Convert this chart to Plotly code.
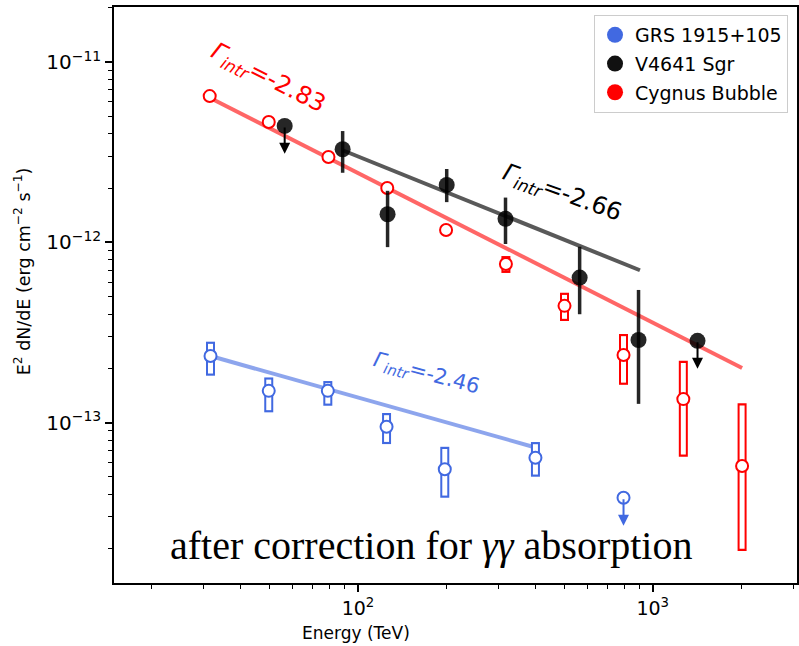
import numpy as np
import plotly.graph_objects as go

# ---------------- data ----------------
# Cygnus Bubble (red)
cyg_E = [31.4, 49.8, 79.4, 125.7, 199.0, 317.6, 502.0, 796.0, 1270.0, 2010.0]
cyg_F = [6.47e-12, 4.65e-12, 2.97e-12, 2.0e-12, 1.17e-12, 7.58e-13, 4.44e-13, 2.37e-13, 1.35e-13, 5.74e-14]
cyg_hi = [6.6e-12, 4.75e-12, 3.03e-12, 2.04e-12, 1.19e-12, 8.39e-13, 5.25e-13, 3.10e-13, 2.20e-13, 1.28e-13]
cyg_lo = [6.3e-12, 4.55e-12, 2.91e-12, 1.96e-12, 1.15e-12, 6.76e-13, 3.66e-13, 1.62e-13, 6.47e-14, 1.94e-14]

# V4641 Sgr (black)
v46_E = [88.7, 126.0, 200.0, 316.6, 565.0, 895.0]
v46_F = [3.28e-12, 1.43e-12, 2.08e-12, 1.35e-12, 6.37e-13, 2.87e-13]
v46_hi = [4.14e-12, 1.93e-12, 2.55e-12, 1.77e-12, 9.45e-13, 5.44e-13]
v46_lo = [2.43e-12, 9.4e-13, 1.67e-12, 9.78e-13, 3.99e-13, 1.27e-13]
v46_ul_E = [56.4, 1419.0]
v46_ul_F = [4.42e-12, 2.84e-13]

# GRS 1915+105 (blue)
grs_E = [31.6, 49.8, 79.0, 125.0, 197.0, 400.0]
grs_F = [2.34e-13, 1.50e-13, 1.50e-13, 9.48e-14, 5.51e-14, 6.38e-14]
grs_hi = [2.81e-13, 1.78e-13, 1.70e-13, 1.13e-13, 7.34e-14, 7.80e-14]
grs_lo = [1.82e-13, 1.14e-13, 1.24e-13, 7.60e-14, 3.83e-14, 5.01e-14]
grs_ul_E = [796.0]
grs_ul_F = [3.83e-14]

UL_FRAC = 0.3  # upper-limit arrow length as fraction of flux

# power-law fits: (E_min, E_max, F at E_min, photon index)
fit_cyg = [31.4, 2010.0, 6.34e-12, -2.83]
fit_v46 = [88.7, 905.0, 3.24e-12, -2.66]
fit_grs = [31.6, 400.0, 2.34e-13, -2.46]

x_ticks = [1e2, 1e3]
x_ticktext = ["10<sup>2</sup>", "10<sup>3</sup>"]
y_ticks = [1e-13, 1e-12, 1e-11]
y_ticktext = ["10<sup>\u221213</sup>", "10<sup>\u221212</sup>", "10<sup>\u221211</sup>"]

RED = "#ff0000"
BLUE = "#4169e1"
BLACK = "rgba(0,0,0,0.85)"
FONT = "DejaVu Sans"
OUTLINE = 1.028  # inset factor for the white core of hollow error bars

fig = go.Figure()


def fit_line(p):
    e0, e1, f0, g = p
    E = np.array([e0, e1])
    return E, f0 * (E / e0) ** (2 + g)


# fit lines
for p, col in [(fit_cyg, "rgba(255,0,0,0.6)"), (fit_v46, "rgba(0,0,0,0.65)"), (fit_grs, "rgba(65,105,225,0.6)")]:
    E, F = fit_line(p)
    fig.add_trace(go.Scatter(x=E, y=F, mode="lines", line=dict(color=col, width=4),
                             showlegend=False, hoverinfo="skip"))


def hollow_bars(E, F, lo, hi, col):
    F = np.array(F); lo = np.array(lo); hi = np.array(hi)
    fig.add_trace(go.Scatter(
        x=E, y=F, mode="markers", marker=dict(size=1, opacity=0), showlegend=False, hoverinfo="skip",
        error_y=dict(type="data", symmetric=False, array=hi - F, arrayminus=F - lo,
                     color=col, thickness=9, width=0)))
    lo_in = lo * OUTLINE
    hi_in = hi / OUTLINE
    fig.add_trace(go.Scatter(
        x=E, y=F, mode="markers", marker=dict(size=1, opacity=0), showlegend=False, hoverinfo="skip",
        error_y=dict(type="data", symmetric=False, array=np.maximum(hi_in - F, 0),
                     arrayminus=np.maximum(F - lo_in, 0), color="white", thickness=5, width=0)))


hollow_bars(cyg_E, cyg_F, cyg_lo, cyg_hi, RED)
hollow_bars(grs_E, grs_F, grs_lo, grs_hi, BLUE)

# open circle markers
fig.add_trace(go.Scatter(x=cyg_E, y=cyg_F, mode="markers",
                         marker=dict(size=12, color="white", line=dict(color=RED, width=2)),
                         showlegend=False))
fig.add_trace(go.Scatter(x=grs_E + grs_ul_E, y=grs_F + grs_ul_F, mode="markers",
                         marker=dict(size=12, color="white", line=dict(color=BLUE, width=2)),
                         showlegend=False))

# V4641 Sgr
fig.add_trace(go.Scatter(
    x=v46_E, y=v46_F, mode="markers",
    marker=dict(size=16, color=BLACK),
    error_y=dict(type="data", symmetric=False,
                 array=[h - f for h, f in zip(v46_hi, v46_F)],
                 arrayminus=[f - l for f, l in zip(v46_F, v46_lo)],
                 color=BLACK, thickness=3.5, width=0),
    showlegend=False))
fig.add_trace(go.Scatter(x=v46_ul_E, y=v46_ul_F, mode="markers",
                         marker=dict(size=16, color=BLACK), showlegend=False))

# upper limit arrows
annotations = []
for Es, Fs, col in [(v46_ul_E, v46_ul_F, "black"), (grs_ul_E, grs_ul_F, BLUE)]:
    for e, f in zip(Es, Fs):
        annotations.append(dict(x=np.log10(e), y=np.log10(f * (1 - UL_FRAC)), xref="x", yref="y",
                                ax=np.log10(e), ay=np.log10(f), axref="x", ayref="y",
                                text="", showarrow=True, arrowhead=2, arrowsize=1.1,
                                arrowwidth=2, arrowcolor=col))

# legend entries
for name, col in [("GRS 1915+105", BLUE), ("V4641 Sgr", "#111111"), ("Cygnus Bubble", RED)]:
    fig.add_trace(go.Scatter(x=[None], y=[None], mode="markers", name=name,
                             legendgroup=name,
                             marker=dict(size=16, color=col, symbol="circle")))

# text labels
gamma = "<i>\u0393</i><sub><i>intr</i></sub>=-"
annotations += [
    dict(x=1.693, y=-11.089, xref="x", yref="y", text=gamma + "2.83", showarrow=False,
         textangle=27, font=dict(family=FONT, size=24, color=RED)),
    dict(x=2.691, y=-11.727, xref="x", yref="y", text=gamma + "2.66", showarrow=False,
         textangle=20, font=dict(family=FONT, size=24, color="black")),
    dict(x=2.234, y=-12.730, xref="x", yref="y", text=gamma + "2.46", showarrow=False,
         textangle=15, font=dict(family=FONT, size=21, color=BLUE)),
    dict(x=2.249, y=-13.679, xref="x", yref="y",
         text="after correction for <i>\u03b3\u03b3</i> absorption", showarrow=False,
         font=dict(family="Liberation Serif", size=40, color="black")),
    dict(x=(357 - 114) / 685, y=-(633 - 583) / 576, xref="paper", yref="paper",
         text="Energy (TeV)", showarrow=False, xanchor="center", yanchor="middle",
         font=dict(family=FONT, size=17, color="black")),
    dict(x=-(114 - 22) / 685, y=1 - (271 - 7) / 576, xref="paper", yref="paper",
         text="E<sup>2</sup> dN/dE (erg cm<sup>\u22122</sup> s<sup>\u22121</sup>)",
         showarrow=False, textangle=-90, xanchor="center", yanchor="middle",
         font=dict(family=FONT, size=17.5, color="black")),
]

x_minor = [m * 10 ** d for d in [1, 2, 3] for m in range(2, 10)]
y_minor = [m * 10 ** d for d in [-14, -13, -12, -11] for m in range(2, 10)]

fig.update_layout(
    width=799, height=646,
    margin=dict(l=114, r=0, t=7, b=63),
    paper_bgcolor="white", plot_bgcolor="white",
    annotations=annotations,
    font=dict(family=FONT, size=18, color="black"),
    showlegend=True,
    legend=dict(x=(790 - 114) / 685, y=1 - (15 - 7) / 576, xanchor="right", yanchor="top",
                bgcolor="white", bordercolor="#cccccc", borderwidth=1,
                font=dict(family=FONT, size=19), tracegroupgap=1, traceorder="grouped"),
    xaxis=dict(type="log", range=[1.1722, 3.4895], showgrid=False, zeroline=False,
               showline=True, linecolor="black", linewidth=1.5, mirror=True,
               ticks="outside", ticklen=7, tickwidth=1.5, tickcolor="black",
               tickvals=x_ticks, ticktext=x_ticktext, tickfont=dict(size=19),
               minor=dict(tickvals=x_minor, ticks="outside", ticklen=4, tickwidth=1.2, tickcolor="black")),
    yaxis=dict(type="log", range=[-13.8897, -10.695], showgrid=False, zeroline=False,
               showline=True, linecolor="black", linewidth=1.5, mirror=True,
               ticks="outside", ticklen=7, tickwidth=1.5, tickcolor="black",
               tickvals=y_ticks, ticktext=y_ticktext, tickfont=dict(size=20),
               minor=dict(tickvals=y_minor, ticks="outside", ticklen=4, tickwidth=1.2, tickcolor="black")),
)

fig.write_html("out.html")
